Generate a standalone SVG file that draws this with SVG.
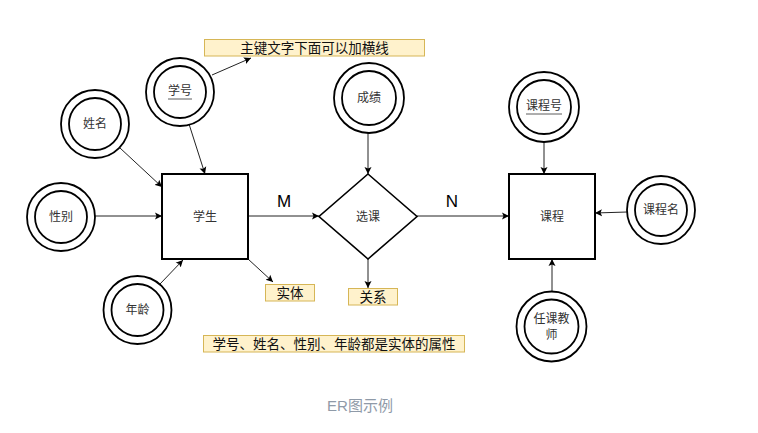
<svg xmlns="http://www.w3.org/2000/svg" width="758" height="433" viewBox="0 0 758 433">
<defs>
<marker id="arr" markerWidth="8" markerHeight="8" refX="7" refY="4" orient="auto" markerUnits="userSpaceOnUse">
<path d="M0,0.5 L7,4 L0,7.5 L1.5,4 Z" fill="#000"/>
</marker>
<style>
.ent{fill:#fff;stroke:#000;stroke-width:2}
.rel{fill:#fff;stroke:#000;stroke-width:1.6}
.ring{fill:#fff;stroke:#000;stroke-width:1.8}
.lbl{font-family:"Liberation Sans","Noto Sans CJK SC",sans-serif;font-size:12px;fill:#333;text-anchor:middle;dominant-baseline:central}
.note{fill:#fff2cc;stroke:#d6b656;stroke-width:1}
.ntxt{font-family:"Liberation Sans","Noto Sans CJK SC",sans-serif;font-size:13.5px;fill:#111;text-anchor:middle;dominant-baseline:central}
.mn{font-family:"Liberation Sans","Noto Sans",sans-serif;font-size:17px;fill:#000;text-anchor:middle}
.con{stroke:#222;stroke-width:1;fill:none;marker-end:url(#arr)}
.ul{stroke:#333;stroke-width:0.8}
</style>
</defs>
<rect width="758" height="433" fill="#fff"/>

<g id="connectors">
<line class="con" x1="212" y1="75" x2="251" y2="58"/>
<line class="con" x1="189" y1="124" x2="205" y2="174"/>
<line class="con" x1="120" y1="148" x2="162" y2="187"/>
<line class="con" x1="95" y1="216" x2="162" y2="216"/>
<line class="con" x1="160" y1="284" x2="183" y2="260"/>
<line class="con" x1="248" y1="259" x2="273" y2="282"/>
<line class="con" x1="248" y1="216" x2="319" y2="216"/>
<line class="con" x1="368" y1="133" x2="368" y2="174"/>
<line class="con" x1="368" y1="259" x2="368" y2="288"/>
<line class="con" x1="417" y1="216" x2="509" y2="216"/>
<line class="con" x1="544" y1="142" x2="544" y2="174"/>
<line class="con" x1="627" y1="212" x2="595" y2="213"/>
<line class="con" x1="552" y1="291" x2="552" y2="259"/>
<text class="mn" x="284" y="207">M</text>
<text class="mn" x="452" y="207">N</text>
</g>

<g id="note-pk">
<rect class="note" x="204.5" y="39.5" width="220" height="16.5"/>
<text class="ntxt" x="314.5" y="48">主键文字下面可以加横线</text>
</g>

<g id="attr-xuehao">
<circle class="ring" cx="180" cy="92" r="34"/>
<circle class="ring" cx="180" cy="92" r="26"/>
<text class="lbl" x="180" y="91">学号</text>
<line class="ul" x1="168" y1="99" x2="192" y2="99"/>
</g>

<g id="attr-xingming">
<circle class="ring" cx="95" cy="124" r="34"/>
<circle class="ring" cx="95" cy="124" r="26"/>
<text class="lbl" x="95" y="124">姓名</text>
</g>

<g id="attr-xingbie">
<circle class="ring" cx="61" cy="217" r="34"/>
<circle class="ring" cx="61" cy="217" r="26"/>
<text class="lbl" x="61" y="217">性别</text>
</g>

<g id="attr-nianling">
<circle class="ring" cx="137.5" cy="310" r="34"/>
<circle class="ring" cx="137.5" cy="310" r="26"/>
<text class="lbl" x="137.5" y="310">年龄</text>
</g>

<g id="ent-xuesheng">
<rect class="ent" x="162" y="174" width="86" height="85"/>
<text class="lbl" x="205" y="216.5">学生</text>
</g>

<g id="note-shiti">
<rect class="note" x="265.5" y="284.5" width="49" height="16.5"/>
<text class="ntxt" x="290" y="293">实体</text>
</g>

<g id="attr-chengji">
<circle class="ring" cx="369" cy="98" r="35"/>
<circle class="ring" cx="369" cy="98" r="27"/>
<text class="lbl" x="369" y="98">成绩</text>
</g>

<g id="rel-xuanke">
<polygon class="rel" points="368,174 417,216.5 368,259 319,216.5"/>
<text class="lbl" x="368" y="216.5">选课</text>
</g>

<g id="note-guanxi">
<rect class="note" x="348.5" y="288.5" width="49" height="16.5"/>
<text class="ntxt" x="373" y="297">关系</text>
</g>

<g id="ent-kecheng">
<rect class="ent" x="509" y="174" width="86" height="85"/>
<text class="lbl" x="552" y="216.5">课程</text>
</g>

<g id="attr-kechenghao">
<circle class="ring" cx="544" cy="107" r="35"/>
<circle class="ring" cx="544" cy="107" r="27"/>
<text class="lbl" x="544" y="106">课程号</text>
<line class="ul" x1="526" y1="114" x2="562" y2="114"/>
</g>

<g id="attr-kechengming">
<circle class="ring" cx="661" cy="210" r="34"/>
<circle class="ring" cx="661" cy="210" r="26"/>
<text class="lbl" x="661" y="210">课程名</text>
</g>

<g id="attr-renkejiaoshi">
<circle class="ring" cx="551.5" cy="326.5" r="35"/>
<circle class="ring" cx="551.5" cy="326.5" r="27"/>
<text class="lbl" x="551.5" y="319">任课教</text>
<text class="lbl" x="551.5" y="335">师</text>
</g>

<g id="note-attrs">
<rect class="note" x="203.5" y="335.5" width="261" height="16.5"/>
<text class="ntxt" x="334" y="344">学号、姓名、性别、年龄都是实体的属性</text>
</g>

<text x="360" y="405" font-family="'Liberation Sans','Noto Sans CJK SC',sans-serif" font-size="15" fill="#8f9aa8" text-anchor="middle" dominant-baseline="central">ER图示例</text>
</svg>
